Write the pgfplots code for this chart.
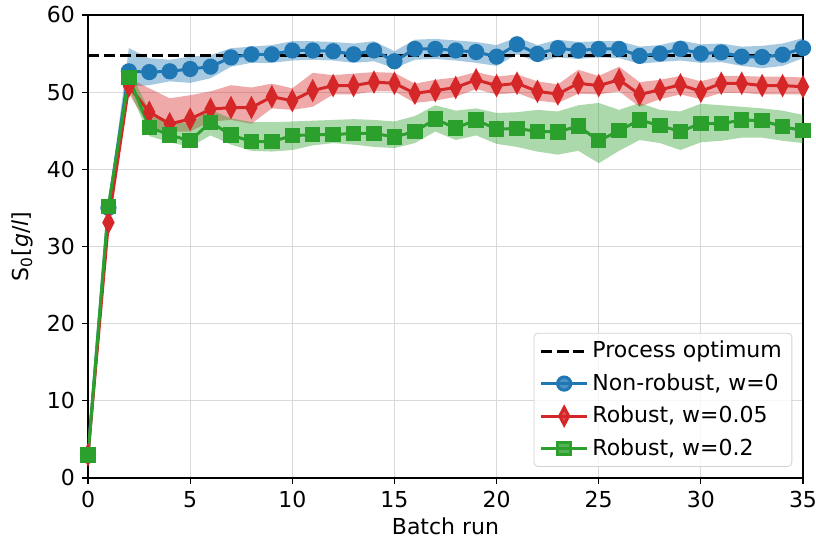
\documentclass[border=0pt]{standalone}
\usepackage{fontspec}
\setmainfont{DejaVu Sans}
\usepackage{pgfplots}
\pgfplotsset{compat=1.18}
\usepgfplotslibrary{fillbetween}
\usepackage{pgfplotstable}

\definecolor{tabblue}{HTML}{1F77B4}
\definecolor{tabred}{HTML}{D62728}
\definecolor{tabgreen}{HTML}{2CA02C}

% x  y  lo  hi
\pgfplotstableread{
x y lo hi
0 3 2.8 3.2
1 35 34.5 35.5
2 52.7 50.7 55.7
3 52.6 50.9 54.4
4 52.7 51.4 54.2
5 53.0 51.2 54.6
6 53.3 51.8 54.8
7 54.5 53.3 55.7
8 54.9 53.8 55.9
9 54.9 53.8 56.1
10 55.4 54.1 56.6
11 55.4 54.2 56.6
12 55.3 54.1 56.5
13 54.9 53.8 56.3
14 55.4 54.0 56.6
15 54.0 53.1 55.3
16 55.6 54.2 56.8
17 55.6 54.3 56.9
18 55.4 54.1 56.7
19 55.2 53.8 56.5
20 54.6 53.4 56.1
21 56.2 54.9 57.1
22 54.95 53.9 56.1
23 55.7 54.5 56.8
24 55.4 54.3 56.5
25 55.6 54.5 56.6
26 55.6 54.4 56.6
27 54.7 53.7 55.9
28 55.0 53.9 56.1
29 55.6 54.1 56.7
30 55.0 53.8 56.2
31 55.15 53.9 56.3
32 54.6 53.4 55.9
33 54.55 53.1 56.0
34 54.85 53.4 56.3
35 55.7 54.4 57.0
}\nonrobust

\pgfplotstableread{
x y lo hi
0 3 2.8 3.2
1 33.1 32.6 33.6
2 50.8 49.8 51.8
3 47.4 45.5 50.5
4 45.9 44.9 49.2
5 46.5 44.9 49.6
6 47.8 46.2 50.1
7 48.0 46.4 50.9
8 48.0 45.9 50.6
9 49.4 47.9 51.1
10 48.9 47.7 50.5
11 50.2 48.1 52.5
12 50.85 49.7 52.2
13 50.85 49.7 52.4
14 51.3 50.1 52.6
15 51.15 50.1 52.5
16 49.85 48.6 51.1
17 50.2 48.9 51.6
18 50.6 49.4 51.9
19 51.6 50.4 52.6
20 50.85 49.7 52.0
21 51.15 49.9 52.3
22 50.1 48.9 51.4
23 49.75 48.6 51.0
24 51.15 49.8 52.9
25 50.85 49.7 52.1
26 51.6 50.1 53.3
27 49.7 48.1 51.3
28 50.3 49.1 51.6
29 50.95 49.7 52.1
30 50.1 49.1 51.4
31 51.15 49.9 52.1
32 51.15 49.9 52.1
33 50.85 49.7 52.0
34 50.85 49.7 52.0
35 50.7 49.7 51.9
}\robustA

\pgfplotstableread{
x y lo hi
0 3 2.8 3.2
1 35.2 34.7 35.7
2 51.9 50.5 53.0
3 45.45 44.3 47.6
4 44.45 43.5 46.1
5 43.7 42.9 46.0
6 46.1 44.4 47.7
7 44.45 43.2 46.6
8 43.6 42.4 46.1
9 43.6 42.3 46.1
10 44.35 42.5 46.2
11 44.5 43.1 46.3
12 44.5 43.4 46.4
13 44.65 43.2 46.5
14 44.65 42.9 46.4
15 44.2 42.75 46.2
16 44.9 43.4 46.9
17 46.5 44.9 48.3
18 45.35 43.8 47.6
19 46.4 44.4 47.9
20 45.2 43.3 47.3
21 45.3 42.9 47.4
22 44.9 42.3 47.7
23 44.85 41.9 47.5
24 45.6 42.4 48.3
25 43.7 40.8 48.6
26 45.0 42.4 47.7
27 46.4 43.8 48.6
28 45.65 43.4 47.7
29 44.9 42.5 47.5
30 45.95 43.5 48.5
31 45.9 43.7 48.3
32 46.4 44.1 48.1
33 46.3 44.1 47.9
34 45.55 43.7 47.6
35 45.0 43.4 47.05
}\robustB

\begin{document}
\begin{tikzpicture}[trim left=-44pt, trim right=364pt]
\begin{axis}[
  scale only axis,
  width=357.5pt, height=231.5pt,
  xmin=0, xmax=35, ymin=0, ymax=60,
  xtick={0,5,...,35}, ytick={0,10,...,60},
  xtick pos=bottom, ytick pos=left,
  tick align=outside, major tick length=3pt,
  tick style={black, line width=0.6pt},
  axis line style={line width=0.7pt},
  grid=major, grid style={gray!30, line width=0.6pt},
  /pgf/number format/assume math mode=true,
  tick label style={font=\fontsize{11}{13}\selectfont},
  label style={font=\fontsize{11}{13}\selectfont},
  xlabel={Batch run},
  ylabel={S\textsubscript{0}[\textit{g}/\textit{l}]},
  xlabel style={yshift=2pt},
  ylabel style={at={(rel axis cs:0,0.5)}, anchor=south, yshift=24pt},
  legend style={at={(rel axis cs:0.985,0.024)}, anchor=south east,
    draw=gray!35, rounded corners=2pt, fill=white, fill opacity=0.8,
    text opacity=1, font=\fontsize{11}{13}\selectfont,
    inner xsep=3pt, inner ysep=2pt, row sep=2.4pt},
  legend cell align=left,
  legend image code/.code={
    \draw[line width=1.5pt, mark repeat=2, mark phase=2] plot coordinates {(0cm,0cm) (0.4cm,0cm) (0.8cm,0cm)};
  },
]
% process optimum
\addplot[black, dash pattern=on 5.5pt off 2.5pt, line width=1.5pt] coordinates {(0,54.8) (35,54.8)};
\addlegendentry{Process optimum}

% non-robust
\addplot[name path=bhi, draw=none, forget plot] table[x=x, y=hi] {\nonrobust};
\addplot[name path=blo, draw=none, forget plot] table[x=x, y=lo] {\nonrobust};
\addplot[tabblue, fill opacity=0.4, forget plot] fill between[of=bhi and blo];
\addplot[tabblue, line width=1.5pt, mark=*, mark size=3.3pt] table[x=x, y=y] {\nonrobust};
\addlegendentry{Non-robust, w=0}

% robust, w=0.05
\addplot[name path=rhi, draw=none, forget plot] table[x=x, y=hi] {\robustA};
\addplot[name path=rlo, draw=none, forget plot] table[x=x, y=lo] {\robustA};
\addplot[tabred, fill opacity=0.4, forget plot] fill between[of=rhi and rlo];
\addplot[tabred, line width=1.5pt, mark=diamond*, mark size=4.3pt,
  mark options={xscale=0.7, solid}] table[x=x, y=y] {\robustA};
\addlegendentry{Robust, w=0.05}

% robust, w=0.2
\addplot[name path=ghi, draw=none, forget plot] table[x=x, y=hi] {\robustB};
\addplot[name path=glo, draw=none, forget plot] table[x=x, y=lo] {\robustB};
\addplot[tabgreen, fill opacity=0.4, forget plot] fill between[of=ghi and glo];
\addplot[tabgreen, line width=1.5pt, mark=square*, mark size=3.1pt] table[x=x, y=y] {\robustB};
\addlegendentry{Robust, w=0.2}
\end{axis}
\end{tikzpicture}
\end{document}
